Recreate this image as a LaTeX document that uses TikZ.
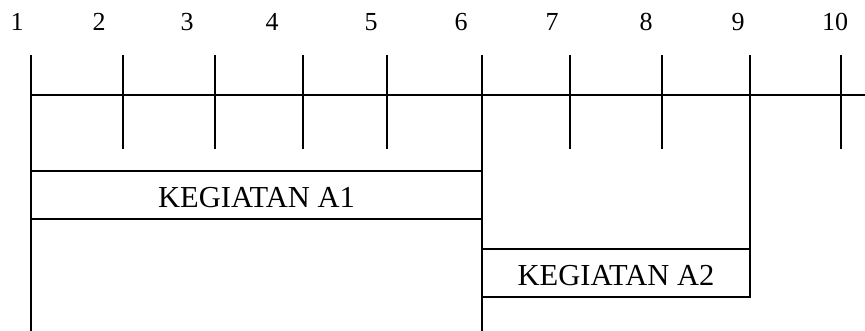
\documentclass[tikz,border=0pt]{standalone}
\usepackage{fontspec}
\setmainfont{Liberation Serif}
\usetikzlibrary{positioning}

\begin{document}
\begin{tikzpicture}[
    x=1pt, y=-1pt,
    rule/.style={line width=1.6pt},
    numlabel/.style={font=\fontsize{26}{30}\selectfont, inner sep=0pt},
    actbox/.style={draw, line width=1.6pt, inner sep=0pt, minimum height=48pt,
                   text height=26pt, text depth=0pt,
                   font=\fontsize{30.5}{34}\selectfont},
  ]
  \useasboundingbox (0,0) rectangle (865,331);

  % --- time scale ---
  \foreach \n/\xpos in {1/17, 2/99, 3/187, 4/272, 5/371, 6/461, 7/552, 8/646, 9/738, 10/835}
    \node[numlabel] (num\n) at (\xpos,22) {\n};

  \draw[rule] (31,95) -- (865,95);
  \foreach \xpos in {123, 215, 303, 387, 570, 662, 841}
    \draw[rule] (\xpos,55) -- (\xpos,149);
  \draw[rule] (31,55) -- (31,331);
  \draw[rule] (482,55) -- (482,331);
  \draw[rule] (750,55) -- (750,297);

  % --- activities ---
  \node[actbox, minimum width=451pt] (kegA1) at (256.5,195) {KEGIATAN A1};
  \node[actbox, minimum width=268pt] (kegA2) at (616,273) {KEGIATAN A2};
\end{tikzpicture}
\end{document}
